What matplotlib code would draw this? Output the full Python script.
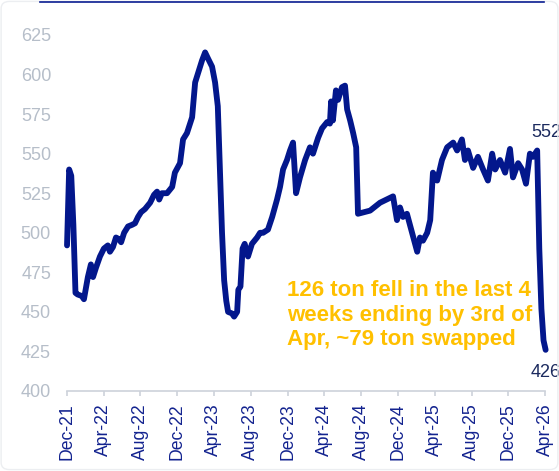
import numpy as np
import pandas as pd
import matplotlib
matplotlib.use("Agg")
import matplotlib.pyplot as plt
import matplotlib.dates as mdates
from matplotlib.lines import Line2D
from matplotlib.patches import FancyBboxPatch

plt.rcParams["font.family"] = ["Liberation Sans", "DejaVu Sans"]

# weekly gold holdings (ton)
dates = [
    "2021-12-01", "2021-12-08", "2021-12-15", "2021-12-22", "2021-12-29",
    "2022-01-05", "2022-01-19", "2022-01-26", "2022-02-08", "2022-02-18",
    "2022-02-25", "2022-03-07", "2022-03-20", "2022-04-02", "2022-04-15",
    "2022-04-22", "2022-05-02", "2022-05-12", "2022-05-22", "2022-05-29",
    "2022-06-08", "2022-06-21", "2022-07-04", "2022-07-14", "2022-07-24",
    "2022-08-03", "2022-08-16", "2022-09-02", "2022-09-15", "2022-09-25",
    "2022-10-02", "2022-10-11", "2022-10-28", "2022-11-14", "2022-11-23",
    "2022-12-10", "2022-12-20", "2023-01-02", "2023-01-19", "2023-01-29",
    "2023-02-08", "2023-02-21", "2023-03-03", "2023-03-13", "2023-03-26",
    "2023-04-05", "2023-04-14", "2023-04-21", "2023-04-28", "2023-05-05",
    "2023-05-12", "2023-05-18", "2023-05-31", "2023-06-07", "2023-06-17",
    "2023-06-21", "2023-06-28", "2023-07-05", "2023-07-12", "2023-07-23",
    "2023-08-05", "2023-08-22", "2023-09-01", "2023-09-11", "2023-09-27",
    "2023-10-11", "2023-10-27", "2023-11-06", "2023-11-16", "2023-11-29",
    "2023-12-09", "2023-12-19", "2023-12-29", "2024-01-11", "2024-01-28",
    "2024-02-13", "2024-02-23", "2024-03-11", "2024-03-24", "2024-04-10",
    "2024-04-19", "2024-04-23", "2024-04-29", "2024-05-09", "2024-05-16",
    "2024-05-29", "2024-06-08", "2024-06-15", "2024-06-25", "2024-07-05",
    "2024-07-15", "2024-07-21", "2024-08-30", "2024-10-02", "2024-11-14",
    "2024-11-27", "2024-12-07", "2024-12-17", "2024-12-30", "2025-01-16",
    "2025-02-02", "2025-02-11", "2025-02-21", "2025-03-07", "2025-03-17",
    "2025-03-26", "2025-04-09", "2025-04-25", "2025-05-12", "2025-06-01",
    "2025-06-14", "2025-06-30", "2025-07-10", "2025-07-20", "2025-08-06",
    "2025-08-22", "2025-09-08", "2025-09-24", "2025-10-08", "2025-10-18",
    "2025-11-03", "2025-11-20", "2025-12-06", "2025-12-16", "2026-01-02",
    "2026-01-15", "2026-01-28", "2026-02-10", "2026-02-20", "2026-03-06",
    "2026-03-13", "2026-03-20", "2026-03-27", "2026-04-03",
]
holdings = [
    492, 540, 536, 505, 462,
    461, 460, 458, 472, 480,
    472, 478, 485, 490, 492,
    488, 491, 497, 496, 494,
    500, 504, 505, 506, 510,
    513, 515, 519, 524, 526,
    521, 525, 525, 529, 538,
    544, 559, 563, 573, 595,
    601, 609, 614, 610, 605,
    595, 580, 540, 500, 470,
    457, 450, 449, 447, 450,
    464, 466, 490, 493, 485,
    493, 497, 500, 500, 502,
    510, 521, 529, 540, 546,
    552, 557, 525, 535, 546,
    554, 550, 560, 566, 570,
    569, 583, 571, 590, 584,
    592, 593, 578, 571, 563,
    554, 512, 514, 519, 523,
    508, 516, 510, 512, 500,
    488, 497, 495, 500, 508,
    538, 533, 546, 554, 557,
    552, 559, 546, 552, 541,
    548, 540, 533, 550, 540,
    546, 538, 553, 535, 544,
    540, 531, 550, 548, 552,
    490, 452, 432, 426,
]
tick_dates = pd.date_range("2021-12-01", "2026-04-01", freq="4MS")
yticks = [400, 425, 450, 475, 500, 525, 550, 575, 600, 625]
note = "126 ton fell in the last 4\nweeks ending by 3rd of\nApr, ~79 ton swapped"

x = pd.to_datetime(dates)
navy = "#03178C"

fig = plt.figure(figsize=(5.59, 4.71), dpi=100)
ax = fig.add_axes([0.1199, 0.1699, 0.8551, 0.7558])

ax.plot(x, holdings, color=navy, lw=4.2, solid_joinstyle="round",
        solid_capstyle="round", clip_on=False, zorder=3)

ax.set_xlim(pd.Timestamp("2021-12-01"), pd.Timestamp("2026-04-01"))
ax.set_ylim(400, 625)
ax.set_yticks(yticks)
ax.set_xticks(tick_dates)
ax.xaxis.set_major_formatter(mdates.DateFormatter("%b-%y"))

for s in ["top", "right", "left"]:
    ax.spines[s].set_visible(False)
ax.spines["bottom"].set_color("#CDD2DA")
ax.spines["bottom"].set_linewidth(1.2)

ax.tick_params(axis="y", length=0, pad=11.5, labelsize=13, labelcolor="#B6BEC9")
ax.tick_params(axis="x", length=3.6, width=1.2, color="#CDD2DA", pad=5,
               labelsize=12.7, labelcolor="#13238F", rotation=90)

# end-point labels
i_hi = dates.index("2026-03-06")
ax.annotate(str(holdings[i_hi]), xy=(x[i_hi], holdings[i_hi]), xytext=(-4.5, 9.5),
            textcoords="offset points", ha="left", va="baseline",
            fontsize=13, color="#1B2A5E", annotation_clip=False)
ax.annotate(str(holdings[-1]), xy=(x[-1], holdings[-1]), xytext=(-11, -10),
            textcoords="offset points", ha="left", va="top",
            fontsize=13, color="#1B2A5E", annotation_clip=False)

fig.text(287 / 559, 1 - 280 / 471, note, ha="left", va="top", fontsize=16,
         fontweight="bold", color="#FFC000", linespacing=1.22)

# decorative frame
fig.add_artist(Line2D([40 / 559, 544 / 559], [1 - 2 / 471, 1 - 2 / 471],
                      color="#0B1E91", lw=1.2, transform=fig.transFigure))
fig.add_artist(FancyBboxPatch((0.002, 0.003), 0.996, 0.994,
                              boxstyle="round,pad=0,rounding_size=0.015",
                              transform=fig.transFigure, fill=False,
                              ec="#ECEEF1", lw=1.0))

fig.savefig("out.png", dpi=100)
